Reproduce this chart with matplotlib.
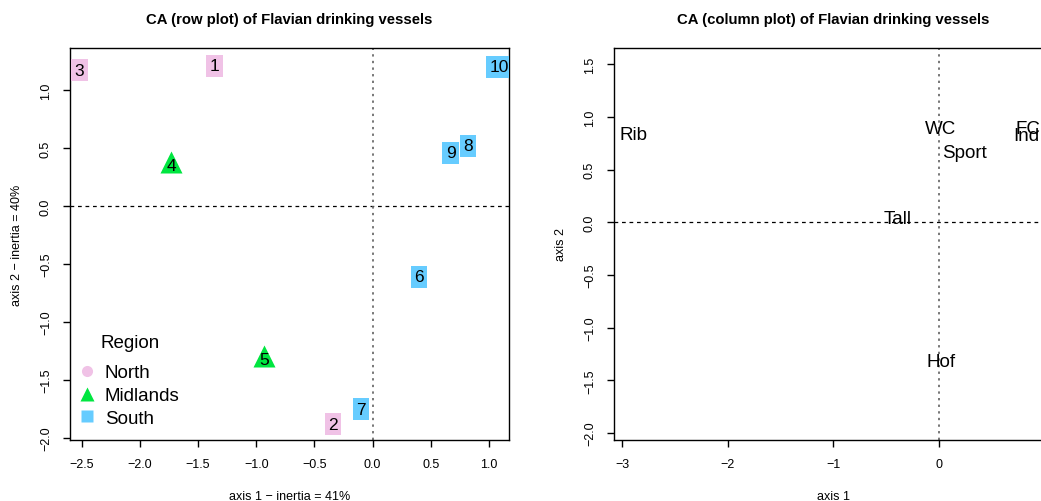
import numpy as np
import matplotlib.pyplot as plt
from matplotlib.lines import Line2D

plt.rcParams['font.family'] = ['Liberation Sans', 'DejaVu Sans']

# row scores (sites)
sites = ["1", "2", "3", "4", "5", "6", "7", "8", "9", "10"]
site_x = [-1.36, -0.34, -2.52, -1.73, -0.93, 0.40, -0.10, 0.82, 0.67, 1.09]
site_y = [1.21, -1.88, 1.17, 0.38, -1.29, -0.61, -1.75, 0.52, 0.46, 1.20]
region = ["North", "North", "North", "Midlands", "Midlands",
          "South", "South", "South", "South", "South"]

# column scores (vessel types)
types = ["Rib", "WC", "Sport", "FC", "Ind", "Tall", "Hof"]
type_x = [-2.89, 0.02, 0.24, 0.85, 0.83, -0.39, 0.02]
type_y = [0.83, 0.89, 0.66, 0.89, 0.82, 0.04, -1.32]

region_names = ["North", "Midlands", "South"]
region_cols = {"North": "#F0C2E6", "Midlands": "#00E640", "South": "#66CCFF"}
region_mark = {"North": "o", "Midlands": "^", "South": "s"}

fig = plt.figure(figsize=(10.41, 5.02), dpi=100)
ax1 = fig.add_axes([0.0672, 0.1215, 0.4217, 0.781])
ax2 = fig.add_axes([0.5898, 0.1215, 0.4217, 0.781])


def ref_lines(ax):
    ax.axhline(0, color="black", lw=0.9, ls=(0, (3, 3)), zorder=1)
    ax.axvline(0, color="#777777", lw=1.4, ls=(0, (1.2, 2.2)), zorder=1)


def style(ax):
    for s in ax.spines.values():
        s.set_linewidth(1.0)
    ax.tick_params(length=5, width=1.0, labelsize=9, pad=8)
    for lab in ax.get_yticklabels():
        lab.set_rotation(90)
        lab.set_va("center")


# --- row plot ---
ref_lines(ax1)
for lab, x, y, r in zip(sites, site_x, site_y, region):
    if r == "Midlands":
        ax1.plot(x, y, marker="^", ms=16, color=region_cols[r], mec="none", zorder=2)
        ax1.text(x, y - 0.03, lab, ha="center", va="center", fontsize=12.5, zorder=3)
    else:
        t = ax1.text(x, y, lab, ha="center", va="center", fontsize=12.5, zorder=3,
                     clip_on=True,
                     bbox=dict(boxstyle="square,pad=0.2", fc=region_cols[r], ec="none"))
        t.get_bbox_patch().set_clip_on(True)

ax1.set_xlim(-2.60, 1.171)
ax1.set_ylim(-2.017, 1.362)
ax1.set_xticks([-2.5, -2.0, -1.5, -1.0, -0.5, 0.0, 0.5, 1.0])
ax1.set_yticks([-2.0, -1.5, -1.0, -0.5, 0.0, 0.5, 1.0])
ax1.set_xlabel("axis 1 \u2212 inertia = 41%", fontsize=9)
ax1.set_ylabel("axis 2 \u2212 inertia = 40%", fontsize=9)
ax1.xaxis.set_label_coords(0.5, -0.128)
ax1.yaxis.set_label_coords(-0.107, 0.5)
ax1.set_title("CA (row plot) of Flavian drinking vessels", fontsize=10.7,
              fontweight="bold", pad=18)
style(ax1)

handles = [Line2D([], [], ls="none", marker=region_mark[r], color=region_cols[r],
                  mec="none", ms={"North": 8, "Midlands": 10, "South": 8}[r])
           for r in region_names]
leg = ax1.legend(handles, region_names, loc="lower left",
                 bbox_to_anchor=(-0.01, 0.0), frameon=False, fontsize=13.5,
                 labelspacing=0.3, handlelength=0.9,
                 handletextpad=0.5, borderaxespad=0.3)
ax1.text(0.137, 0.249, "Region", transform=ax1.transAxes, ha="center",
         va="center", fontsize=13.5)

# --- column plot ---
ref_lines(ax2)
for lab, x, y in zip(types, type_x, type_y):
    ax2.text(x, y, lab, ha="center", va="center", fontsize=13.5, zorder=3)

ax2.set_xlim(-3.078, 1.083)
ax2.set_ylim(-2.067, 1.655)
ax2.set_xticks([-3, -2, -1, 0])
ax2.set_yticks([-2.0, -1.5, -1.0, -0.5, 0.0, 0.5, 1.0, 1.5])
ax2.set_xlabel("axis 1", fontsize=9)
ax2.set_ylabel("axis 2", fontsize=9)
ax2.xaxis.set_label_coords(0.5, -0.128)
ax2.yaxis.set_label_coords(-0.107, 0.5)
ax2.set_title("CA (column plot) of Flavian drinking vessels", fontsize=10.7,
              fontweight="bold", pad=18)
style(ax2)

fig.savefig("out.png", dpi=100)
